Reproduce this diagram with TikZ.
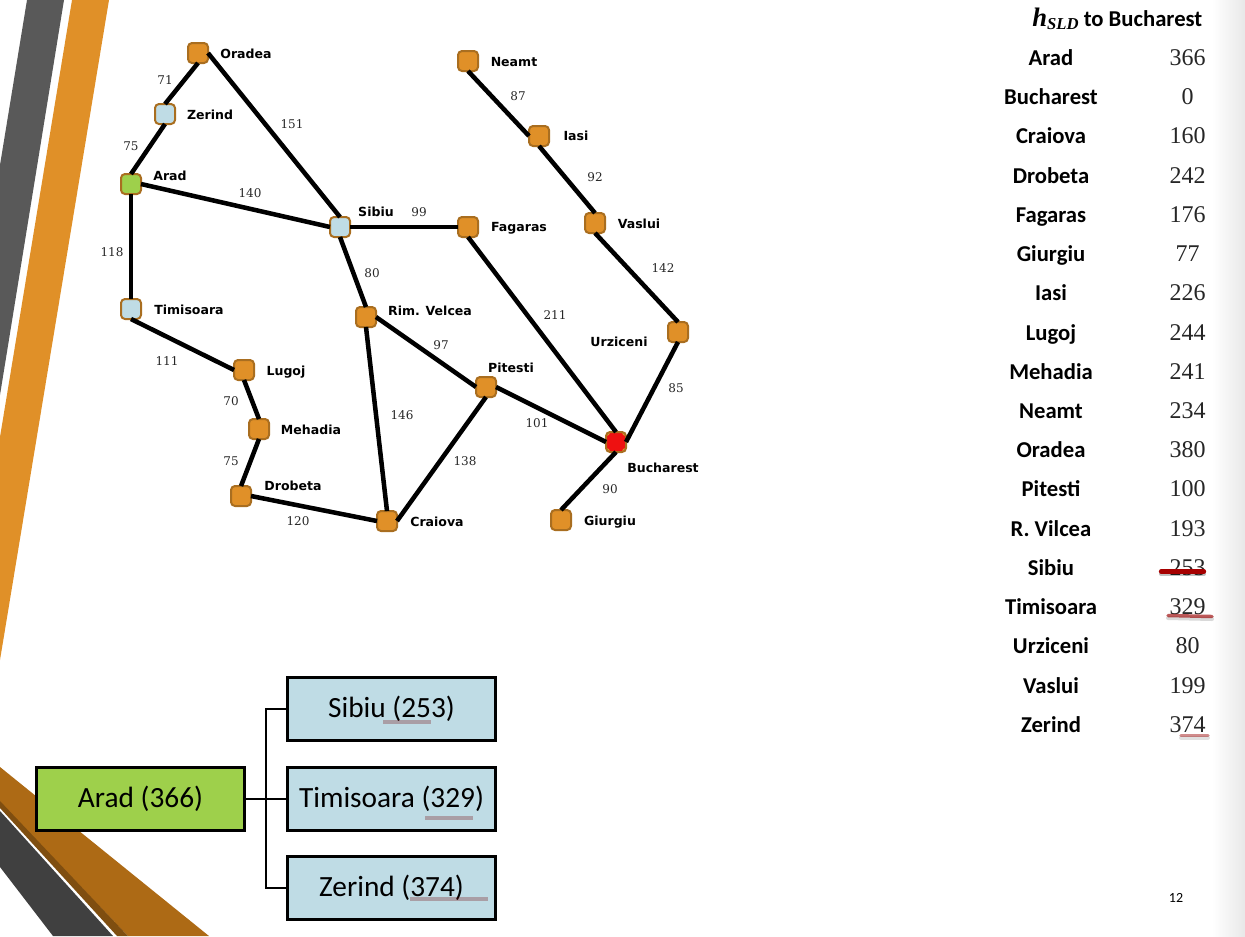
\documentclass[tikz,border=0pt]{standalone}
\usepackage{amsmath,bm}
\usepackage{fontspec}
\setmainfont{Carlito}
\newfontfamily\maplabelfont{DejaVu Sans}
\newfontfamily\mapnumfont{DejaVu Serif}
\newfontfamily\tablenumfont{Liberation Serif}
\usetikzlibrary{positioning}

\definecolor{bandgray}{HTML}{595959}
\definecolor{bandorange}{HTML}{E09028}
\definecolor{bandbrown}{HTML}{AD6A15}
\definecolor{banddarkbrown}{HTML}{7F4E10}
\definecolor{banddark}{HTML}{404040}
\definecolor{cityedge}{HTML}{A96E20}
\definecolor{cityblue}{HTML}{BFDCE5}
\definecolor{citygreen}{HTML}{9ED04B}
\definecolor{cityred}{HTML}{EE1111}

\newcommand{\hsld}{{\tablenumfont\bfseries\itshape\fontsize{20}{22}\selectfont h\raisebox{-2.5pt}{\fontsize{12.5}{14}\selectfont SLD}}}

\tikzset{
    city/.style={draw=cityedge,line width=1.5pt,fill=bandorange,rounded corners=3pt,minimum size=15pt,inner sep=0pt,outer sep=0pt},
    road/.style={line width=3.4pt,color=black},
    citylabel/.style={font=\maplabelfont\bfseries\fontsize{9.4}{11}\selectfont,text height=7pt,text depth=0pt},
    roadlabel/.style={font=\mapnumfont\fontsize{9}{11}\selectfont,color=black!85},
    treebox/.style={draw=black,line width=2pt,minimum width=156pt,minimum height=47pt,inner sep=0pt,font=\fontsize{22}{26}\selectfont},
    treeline/.style={line width=1.5pt,color=black},
    tablename/.style={font=\bfseries\fontsize{17}{20}\selectfont,text height=12pt,text depth=0pt},
    tablenum/.style={font=\tablenumfont\fontsize{18}{21}\selectfont,color=black!85,text height=12pt,text depth=0pt},
    strongmark/.style={line width=3.2pt,line cap=round,color=red!65!black},
    softmark/.style={line width=2.6pt,line cap=round,color=red!60!black,opacity=0.65},
    markshade/.style={line width=3pt,line cap=round,color=black,opacity=0.25},
    boxmark/.style={line width=3.4pt,color=red!45!black,opacity=0.28}
}

\begin{document}
\begin{tikzpicture}[x=0.75pt,y=-0.75pt]
    \useasboundingbox (0,0) rectangle (1245,936);
    % slide background
    \fill[left color=white,right color=black!9,draw=none] (1212,0) rectangle (1245,936);
    \fill[bandgray] (27,0) -- (64,0) -- (0,395) -- (0,165) -- cycle;
    \fill[bandorange] (72,0) -- (109,0) -- (0,660) -- (0,437) -- cycle;
    \fill[bandbrown] (0,767) -- (209,936) -- (128,936) -- (0,803) -- cycle;
    \fill[banddarkbrown] (0,801) -- (128,936) -- (117,936) -- (0,808) -- cycle;
    \fill[banddark] (0,811) -- (113,936) -- (53,936) -- (0,867) -- cycle;

    % cities
    \node[city] (oradea) at (198,53) {};
    \node[city,fill=cityblue] (zerind) at (165,114) {};
    \node[city,fill=citygreen] (arad) at (131,184) {};
    \node[city,fill=cityblue] (sibiu) at (340,227) {};
    \node[city] (fagaras) at (468,227) {};
    \node[city] (neamt) at (468,61) {};
    \node[city] (iasi) at (539,136) {};
    \node[city] (vaslui) at (595,223) {};
    \node[city] (urziceni) at (678,332) {};
    \node[city,fill=cityblue] (timisoara) at (131,309) {};
    \node[city] (lugoj) at (244,370) {};
    \node[city] (mehadia) at (259,429) {};
    \node[city] (drobeta) at (241,496) {};
    \node[city] (craiova) at (387,521) {};
    \node[city] (rimvelcea) at (366,317) {};
    \node[city] (pitesti) at (486,387) {};
    \node[city,path picture={\fill[cityred] (path picture bounding box.center) +(-7.5pt,-5.5pt) rectangle +(7.5pt,5.5pt) +(-5.5pt,-7.5pt) rectangle +(5.5pt,7.5pt);}] (bucharest) at (616,442) {};
    \node[city] (giurgiu) at (561,520) {};

    % roads
    \draw[road] (oradea.south) -- (zerind.north);
    \draw[road] (zerind.south) -- (arad.north);
    \draw[road] (oradea.east) -- (sibiu.north);
    \draw[road] (arad.east) -- (sibiu.west);
    \draw[road] (arad.south) -- (timisoara.north);
    \draw[road] (sibiu.east) -- (fagaras.west);
    \draw[road] (sibiu.south) -- (rimvelcea.north);
    \draw[road] (neamt.south) -- (iasi.west);
    \draw[road] (iasi.south) -- (vaslui.north);
    \draw[road] (vaslui.south) -- (urziceni.north);
    \draw[road] (urziceni.south) -- (bucharest.east);
    \draw[road] (fagaras.south) -- (bucharest.north);
    \draw[road] (timisoara.south) -- (lugoj.west);
    \draw[road] (lugoj.south) -- (mehadia.north);
    \draw[road] (mehadia.south) -- (drobeta.north);
    \draw[road] (drobeta.east) -- (craiova.west);
    \draw[road] (rimvelcea.south) -- (craiova.north);
    \draw[road] (rimvelcea.east) -- (pitesti.west);
    \draw[road] (pitesti.south) -- (craiova.east);
    \draw[road] (pitesti.east) -- (bucharest.west);
    \draw[road] (bucharest.south) -- (giurgiu.north);

    % city names
    \node[citylabel] (nameoradea) at (246,54) {Oradea};
    \node[citylabel] (namezerind) at (210,115) {Zerind};
    \node[citylabel] (namearad) at (170,176) {Arad};
    \node[citylabel] (namesibiu) at (376,212) {Sibiu};
    \node[citylabel] (namefagaras) at (519,227) {Fagaras};
    \node[citylabel] (nameneamt) at (514,62) {Neamt};
    \node[citylabel] (nameiasi) at (576,136) {Iasi};
    \node[citylabel] (namevaslui) at (639,224) {Vaslui};
    \node[citylabel] (nameurziceni) at (619,342) {Urziceni};
    \node[citylabel] (nametimisoara) at (189,310) {Timisoara};
    \node[citylabel] (namelugoj) at (286,371) {Lugoj};
    \node[citylabel] (namemehadia) at (311,430) {Mehadia};
    \node[citylabel] (namedrobeta) at (293,486) {Drobeta};
    \node[citylabel] (namecraiova) at (437,522) {Craiova};
    \node[citylabel] (namerimvelcea) at (430,311) {Rim. Velcea};
    \node[citylabel] (namepitesti) at (511,368) {Pitesti};
    \node[citylabel] (namebucharest) at (663,468) {Bucharest};
    \node[citylabel] (namegiurgiu) at (610,521) {Giurgiu};

    % distances
    \node[roadlabel] (dista) at (165,80) {71};
    \node[roadlabel] (distb) at (131,146) {75};
    \node[roadlabel] (distc) at (292,124) {151};
    \node[roadlabel] (distd) at (250,193) {140};
    \node[roadlabel] (diste) at (112,252) {118};
    \node[roadlabel] (distf) at (419,212) {99};
    \node[roadlabel] (distg) at (518,96) {87};
    \node[roadlabel] (disth) at (595,177) {92};
    \node[roadlabel] (disti) at (663,268) {142};
    \node[roadlabel] (distj) at (372,273) {80};
    \node[roadlabel] (distk) at (555,315) {211};
    \node[roadlabel] (distl) at (441,345) {97};
    \node[roadlabel] (distm) at (167,361) {111};
    \node[roadlabel] (distn) at (231,401) {70};
    \node[roadlabel] (disto) at (231,461) {75};
    \node[roadlabel] (distp) at (402,415) {146};
    \node[roadlabel] (distq) at (465,461) {138};
    \node[roadlabel] (distr) at (537,423) {101};
    \node[roadlabel] (dists) at (676,388) {85};
    \node[roadlabel] (distt) at (610,489) {90};
    \node[roadlabel] (distu) at (298,521) {120};

    % search tree
    \node[treebox,fill=citygreen] (treearad) at (140.5,799) {Arad (366)};
    \node[treebox,fill=cityblue] (treesibiu) at (391.5,709) {Sibiu (253)};
    \node[treebox,fill=cityblue] (treetimisoara) at (391.5,799) {Timisoara (329)};
    \node[treebox,fill=cityblue] (treezerind) at (391.5,888) {Zerind (374)};
    \coordinate (treefork) at (266,799);
    \draw[treeline] (treearad) -- (treetimisoara);
    \draw[treeline] (treefork) |- (treesibiu);
    \draw[treeline] (treefork) |- (treezerind);
    \draw[boxmark] (383,722) -- (431,722);
    \draw[boxmark] (425,818) -- (473,818);
    \draw[boxmark] (410,899) -- (488,899);

    % heuristic table
    \node[tablename,anchor=east] (tablehead) at (1207,18.5) {\hsld\ to Bucharest};
    \node[tablename] (rowa) at (1051,57) {Arad};
    \node[tablename] (rowb) at (1051,96.5) {Bucharest};
    \node[tablename] (rowc) at (1051,135.5) {Craiova};
    \node[tablename] (rowd) at (1051,175) {Drobeta};
    \node[tablename] (rowe) at (1051,214) {Fagaras};
    \node[tablename] (rowf) at (1051,253.5) {Giurgiu};
    \node[tablename] (rowg) at (1051,292.5) {Iasi};
    \node[tablename] (rowh) at (1051,332) {Lugoj};
    \node[tablename] (rowi) at (1051,371) {Mehadia};
    \node[tablename] (rowj) at (1051,410) {Neamt};
    \node[tablename] (rowk) at (1051,449.5) {Oradea};
    \node[tablename] (rowl) at (1051,488.5) {Pitesti};
    \node[tablename] (rowm) at (1051,528) {R. Vilcea};
    \node[tablename] (rown) at (1051,567) {Sibiu};
    \node[tablename] (rowo) at (1051,606.5) {Timisoara};
    \node[tablename] (rowp) at (1051,645.5) {Urziceni};
    \node[tablename] (rowq) at (1051,685) {Vaslui};
    \node[tablename] (rowr) at (1051,724) {Zerind};
    \node[tablenum] (numa) at (1187.5,57) {366};
    \node[tablenum] (numb) at (1187.5,96.5) {0};
    \node[tablenum] (numc) at (1187.5,135.5) {160};
    \node[tablenum] (numd) at (1187.5,175) {242};
    \node[tablenum] (nume) at (1187.5,214) {176};
    \node[tablenum] (numf) at (1187.5,253.5) {77};
    \node[tablenum] (numg) at (1187.5,292.5) {226};
    \node[tablenum] (numh) at (1187.5,332) {244};
    \node[tablenum] (numi) at (1187.5,371) {241};
    \node[tablenum] (numj) at (1187.5,410) {234};
    \node[tablenum] (numk) at (1187.5,449.5) {380};
    \node[tablenum] (numl) at (1187.5,488.5) {100};
    \node[tablenum] (numm) at (1187.5,528) {193};
    \node[tablenum] (numn) at (1187.5,567) {253};
    \node[tablenum] (numo) at (1187.5,606.5) {329};
    \node[tablenum] (nump) at (1187.5,645.5) {80};
    \node[tablenum] (numq) at (1187.5,685) {199};
    \node[tablenum] (numr) at (1187.5,724) {374};
    \draw[markshade] (1161,574) -- (1204,574);
    \draw[strongmark] (1161,571.5) -- (1204,571.5);
    \draw[markshade,opacity=0.15] (1168,618) -- (1212,619);
    \draw[softmark] (1168,615.5) -- (1212,616.5);
    \draw[markshade,opacity=0.12] (1181,737.5) -- (1208,737.5);
    \draw[softmark,opacity=0.45] (1181,735.5) -- (1208,735.5);

    \node[font=\fontsize{10.5}{12}\selectfont] (pagenum) at (1176,898) {12};
\end{tikzpicture}
\end{document}
